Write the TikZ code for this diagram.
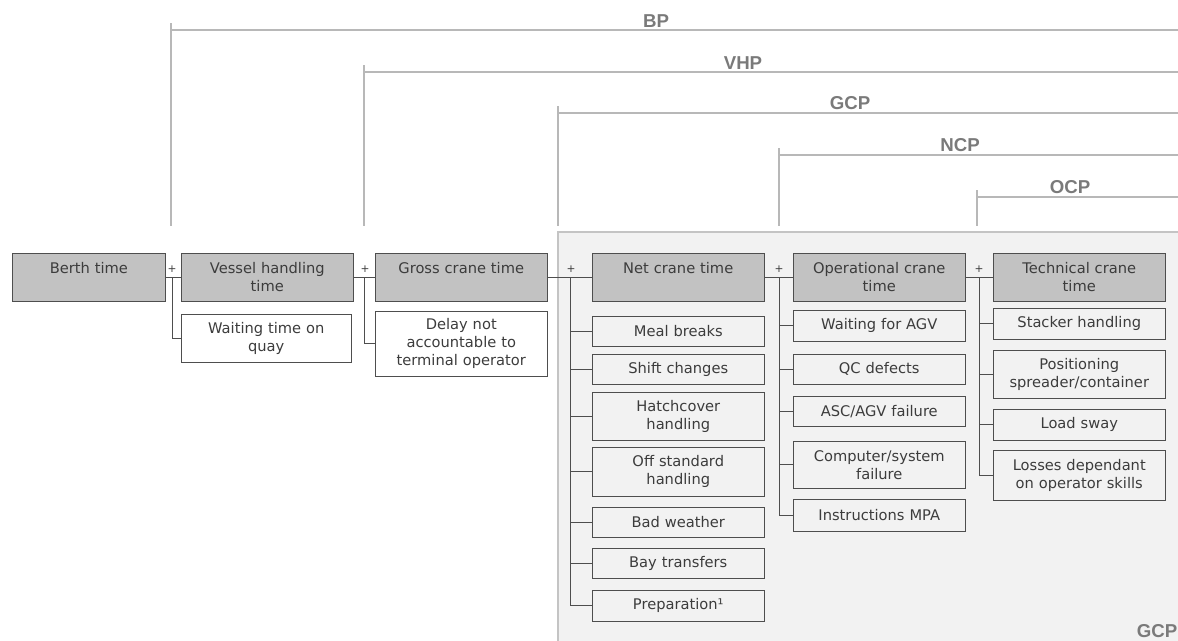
\documentclass[tikz,border=0pt]{standalone}
\usepackage{fontspec}
\setmainfont{DejaVu Sans}
\newfontfamily\tagfont{Liberation Sans}
\usepackage{tikz}
\usetikzlibrary{positioning}
\definecolor{BoxGray}{HTML}{C2C2C2}
\definecolor{EdgeGray}{HTML}{4E4E4E}
\definecolor{TextGray}{HTML}{3C3C3C}
\definecolor{LineGray}{HTML}{B8B8B8}
\definecolor{TagGray}{HTML}{7A7A7A}
\definecolor{ZoneGray}{HTML}{F2F2F2}
\definecolor{ZoneEdge}{HTML}{C4C4C4}

\begin{document}
\begin{tikzpicture}[
  x=0.75pt,y=-0.75pt,
  every node/.style={font=\fontsize{11}{13.5}\selectfont,align=center,text=TextGray},
  timebox/.style={draw=EdgeGray,fill=BoxGray,anchor=north west,minimum width=129pt,minimum height=36pt,inner sep=1pt,text width=124pt},
  lossbox/.style={draw=EdgeGray,anchor=north west,minimum width=129pt,minimum height=22.5pt,inner sep=1pt,text width=124pt},
  link/.style={draw=EdgeGray,line width=0.75pt},
  plus/.style={font=\fontsize{8}{8}\selectfont,inner sep=0pt},
  bracket/.style={draw=LineGray,line width=1pt},
  tag/.style={font=\tagfont\bfseries\fontsize{14}{14}\selectfont,text=TagGray,inner sep=2pt}
]
  \useasboundingbox (0,0) rectangle (1178,640);

  % crane zone
  \fill[ZoneGray] (558,232) rectangle (1190,650);
  \draw[draw=ZoneEdge,line width=1pt] (1190,232) -- (558,232) -- (558,650);
  \node[tag] (zonetag) at (1157,631) {GCP};

  % productivity brackets
  \foreach \bx/\by/\tagname/\tx in {171/30/BP/656,364/72/VHP/743,558/113/GCP/850,779/155/NCP/960,977/197/OCP/1070}{
    \draw[bracket] (\bx,\by-7) -- (\bx,226);
    \draw[bracket] (\bx,\by) -- (1178,\by);
    \node[tag,anchor=south] (tag\tagname) at (\tx,\by) {\tagname};
  }

  % time levels
  \node[timebox,minimum width=115pt,text width=110pt] (berth) at (12,253) {Berth time\\~};
  \node[timebox] (vessel) at (181,253) {Vessel handling\\time};
  \node[timebox] (gross) at (375,253) {Gross crane time\\~};
  \node[timebox] (net) at (592,253) {Net crane time\\~};
  \node[timebox] (oper) at (793,253) {Operational crane\\time};
  \node[timebox] (tech) at (993,253) {Technical crane\\time};

  % losses
  \node[lossbox,minimum width=127.5pt,minimum height=36pt] (waitq) at (181,314) {Waiting time on\\quay};
  \node[lossbox,minimum height=48.75pt] (delay) at (375,311) {Delay not\\accountable to\\terminal operator};

  \node[lossbox] (meal) at (592,316) {Meal breaks};
  \node[lossbox] (shift) at (592,354) {Shift changes};
  \node[lossbox,minimum height=36pt] (hatch) at (592,392) {Hatchcover\\handling};
  \node[lossbox,minimum height=36.75pt] (offstd) at (592,447) {Off standard\\handling};
  \node[lossbox] (bad) at (592,507) {Bad weather};
  \node[lossbox] (bay) at (592,548) {Bay transfers};
  \node[lossbox,minimum height=23.25pt] (prep) at (592,590) {Preparation¹};

  \node[lossbox,minimum height=23.25pt] (waitagv) at (793,310) {Waiting for AGV};
  \node[lossbox] (qc) at (793,354) {QC defects};
  \node[lossbox] (ascagv) at (793,396) {ASC/AGV failure};
  \node[lossbox,minimum height=35.25pt] (comp) at (793,441) {Computer/system\\failure};
  \node[lossbox,minimum height=24pt] (instr) at (793,499) {Instructions MPA};

  \node[lossbox,minimum height=23.25pt] (stacker) at (993,308) {Stacker handling};
  \node[lossbox,minimum height=36pt] (posit) at (993,350) {Positioning\\spreader/container};
  \node[lossbox,minimum height=23.25pt] (sway) at (993,409) {Load sway};
  \node[lossbox,minimum height=37.5pt] (skill) at (993,450) {Losses dependant\\on operator skills};

  % junctions
  \coordinate (j1) at (172,277);
  \coordinate (j2) at (364,277);
  \coordinate (j3) at (570,277);
  \coordinate (j4) at (779,277);
  \coordinate (j5) at (979,277);
  \node[plus] (plus1) at (172,269) {+};
  \node[plus] (plus2) at (365,269) {+};
  \node[plus] (plus3) at (571,269) {+};
  \node[plus] (plus4) at (779,269) {+};
  \node[plus] (plus5) at (979,269) {+};

  \draw[link] (berth.east) -- (vessel.west);
  \draw[link] (vessel.east) -- (gross.west);
  \draw[link] (gross.east) -- (net.west);
  \draw[link] (net.east) -- (oper.west);
  \draw[link] (oper.east) -- (tech.west);

  \draw[link] (j1) |- (waitq.west);
  \draw[link] (j2) |- (delay.west);
  \foreach \sub in {meal,shift,hatch,offstd,bad,bay,prep}
    \draw[link] (j3) |- (\sub.west);
  \foreach \sub in {waitagv,qc,ascagv,comp,instr}
    \draw[link] (j4) |- (\sub.west);
  \foreach \sub in {stacker,posit,sway,skill}
    \draw[link] (j5) |- (\sub.west);
\end{tikzpicture}
\end{document}
